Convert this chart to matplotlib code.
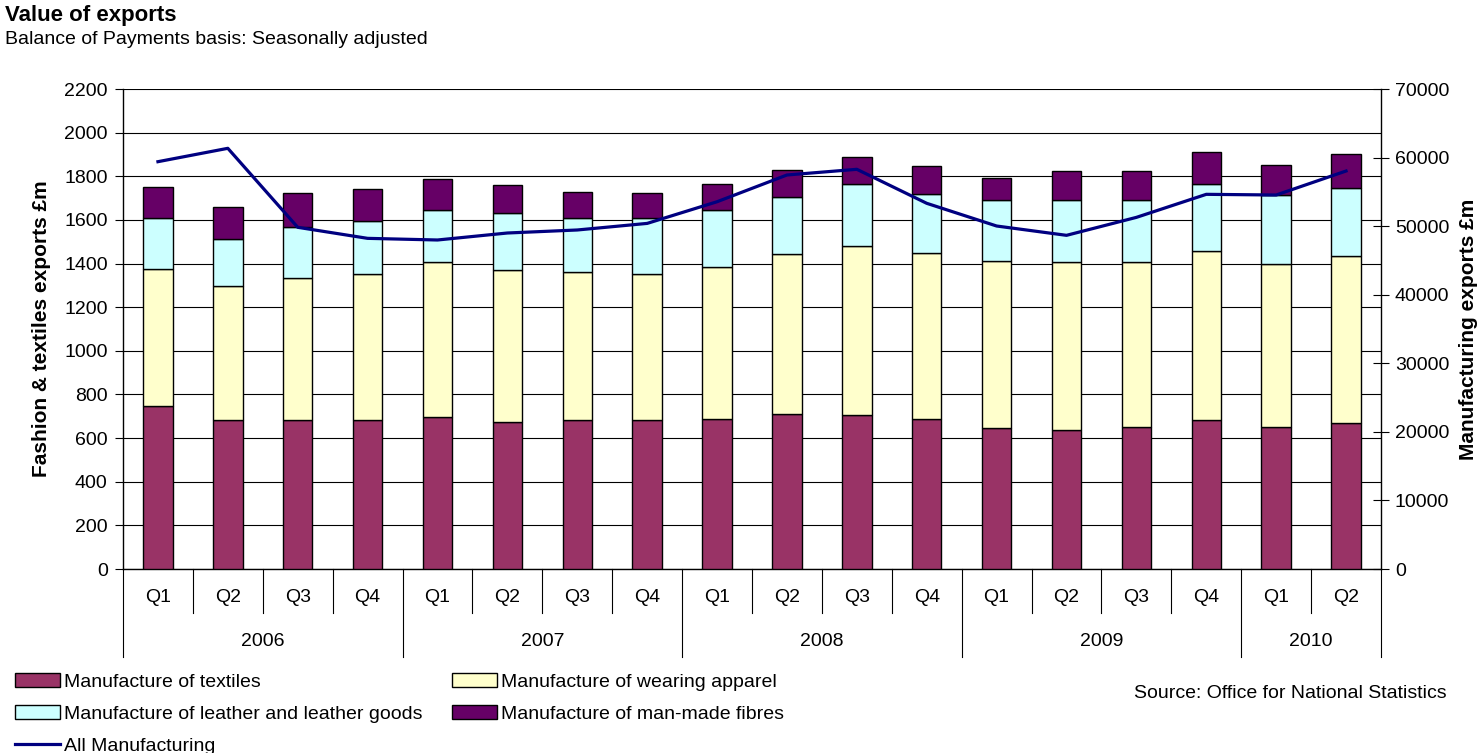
import matplotlib
matplotlib.use("Agg")
import matplotlib.pyplot as plt
from matplotlib.patches import Patch
from matplotlib.lines import Line2D
import numpy as np

plt.rcParams["font.family"] = ["Liberation Sans", "DejaVu Sans"]

# ── Data (£m) ────────────────────────────────────────────────
QUARTERS = ["Q1", "Q2", "Q3", "Q4"] * 4 + ["Q1", "Q2"]
YEARS    = ["2006", "2007", "2008", "2009", "2010"]
YEAR_LEN = [4, 4, 4, 4, 2]

textiles = [748, 681, 681, 681, 697, 675, 681, 681, 689,
            712, 704, 689, 646, 639, 652, 681, 652, 668]
apparel  = [628, 616, 653, 673, 709, 694, 680, 673, 695,
            730, 775, 759, 766, 767, 754, 775, 746, 767]
leather  = [231, 217, 232, 241, 239, 261, 246, 255, 261,
            261, 284, 271, 278, 284, 284, 309, 316, 313]
fibres   = [142, 146, 156, 148, 141, 128, 119, 113, 120,
            127, 127, 127, 104, 134, 134, 146, 139, 156]
all_mfg  = [59400, 61350, 49830, 48220, 47980, 49000, 49440, 50400, 53560,
            57460, 58290, 53330, 50020, 48660, 51280, 54640, 54540, 58040]

C_TEXT  = "#993366"
C_APP   = "#FFFFCC"
C_LEATH = "#CCFFFF"
C_FIBRE = "#660066"
C_LINE  = "#000080"

FS = 14  # base font size

W, H = 1481, 753
fig = plt.figure(figsize=(W / 100, H / 100), dpi=100)
ax = fig.add_axes([123 / W, 1 - 569 / H, (1381 - 123) / W, 480 / H])

x = np.arange(len(textiles))
bw = 0.42
kw = dict(width=bw, edgecolor="black", linewidth=1.0, zorder=3)
b0 = np.array(textiles)
b1 = b0 + np.array(apparel)
b2 = b1 + np.array(leather)
ax.bar(x, textiles, color=C_TEXT, **kw)
ax.bar(x, apparel, bottom=b0, color=C_APP, **kw)
ax.bar(x, leather, bottom=b1, color=C_LEATH, **kw)
ax.bar(x, fibres, bottom=b2, color=C_FIBRE, **kw)

ax.set_xlim(-0.5, len(x) - 0.5)
ax.set_ylim(0, 2200)
ax.set_yticks(range(0, 2201, 200))
ax.yaxis.grid(True, color="black", linewidth=0.8)
ax.set_axisbelow(True)
ax.set_xticks([])
ax.tick_params(axis="y", direction="out", length=6, width=0.8,
               labelsize=FS, pad=5)
for side in ["top", "right"]:
    ax.spines[side].set_visible(False)
for side in ["left", "bottom"]:
    ax.spines[side].set_linewidth(1.0)
ax.set_ylabel("Fashion & textiles exports £m", fontsize=15,
              fontweight="bold", va="center")
ax.yaxis.set_label_coords((42 - 123) / 1258, 0.5)

# ── Right axis: all manufacturing line ──
ax2 = ax.twinx()
ax2.plot(x, all_mfg, color=C_LINE, linewidth=2.3, zorder=5)
ax2.set_ylim(0, 70000)
ax2.set_yticks(range(0, 70001, 10000))
ax2.tick_params(axis="y", direction="inout", length=12, width=0.8,
                labelsize=FS, pad=4)
for side in ["top", "left", "bottom"]:
    ax2.spines[side].set_visible(False)
ax2.spines["right"].set_linewidth(1.0)
ax2.set_ylabel("Manufacturing exports £m", fontsize=15,
               fontweight="bold", va="center")
ax2.yaxis.set_label_coords((1468 - 123) / 1258, 0.5)

# ── Two-level category axis ──
trans = ax.get_xaxis_transform()
q_line = -44 / 480
y_line = -88 / 480
for i, q in enumerate(QUARTERS):
    ax.text(i, -29 / 480, q, transform=trans, ha="center", va="center",
            fontsize=FS)
year_edges = np.concatenate([[0], np.cumsum(YEAR_LEN)]) - 0.5
for i in range(1, len(x)):
    if i - 0.5 not in year_edges:
        ax.plot([i - 0.5, i - 0.5], [0, q_line], transform=trans,
                color="black", linewidth=0.8, clip_on=False)
for e in year_edges:
    ax.plot([e, e], [0, y_line], transform=trans, color="black",
            linewidth=0.8, clip_on=False)
for yr, lo, hi in zip(YEARS, year_edges[:-1], year_edges[1:]):
    ax.text((lo + hi) / 2, -72 / 480, yr, transform=trans, ha="center",
            va="center", fontsize=FS)

# ── Titles ──
fig.text(5 / W, 1 - 15 / H, "Value of exports", fontsize=16,
         fontweight="bold", va="center")
fig.text(5 / W, 1 - 40 / H, "Balance of Payments basis: Seasonally adjusted",
         fontsize=FS, va="center")

# ── Legend (two columns placed separately) ──
leg_kw = dict(loc="upper left", frameon=False, fontsize=FS,
              handlelength=2.3, handleheight=0.75, handletextpad=0.2,
              labelspacing=0.72, borderpad=0, borderaxespad=0)
fig.legend(
    [Patch(facecolor=C_TEXT, edgecolor="black", linewidth=1.0),
     Patch(facecolor=C_LEATH, edgecolor="black", linewidth=1.0),
     Line2D([0], [0], color=C_LINE, linewidth=2.3)],
    ["Manufacture of textiles",
     "Manufacture of leather and leather goods",
     "All Manufacturing"],
    bbox_to_anchor=(15 / W, 1 - 673 / H), **leg_kw)
fig.legend(
    [Patch(facecolor=C_APP, edgecolor="black", linewidth=1.0),
     Patch(facecolor=C_FIBRE, edgecolor="black", linewidth=1.0)],
    ["Manufacture of wearing apparel",
     "Manufacture of man-made fibres"],
    bbox_to_anchor=(452 / W, 1 - 673 / H), **leg_kw)

fig.text(1447 / W, 1 - 693 / H, "Source: Office for National Statistics",
         fontsize=FS, ha="right", va="center")

fig.savefig("out.png", dpi=100, facecolor="white")
